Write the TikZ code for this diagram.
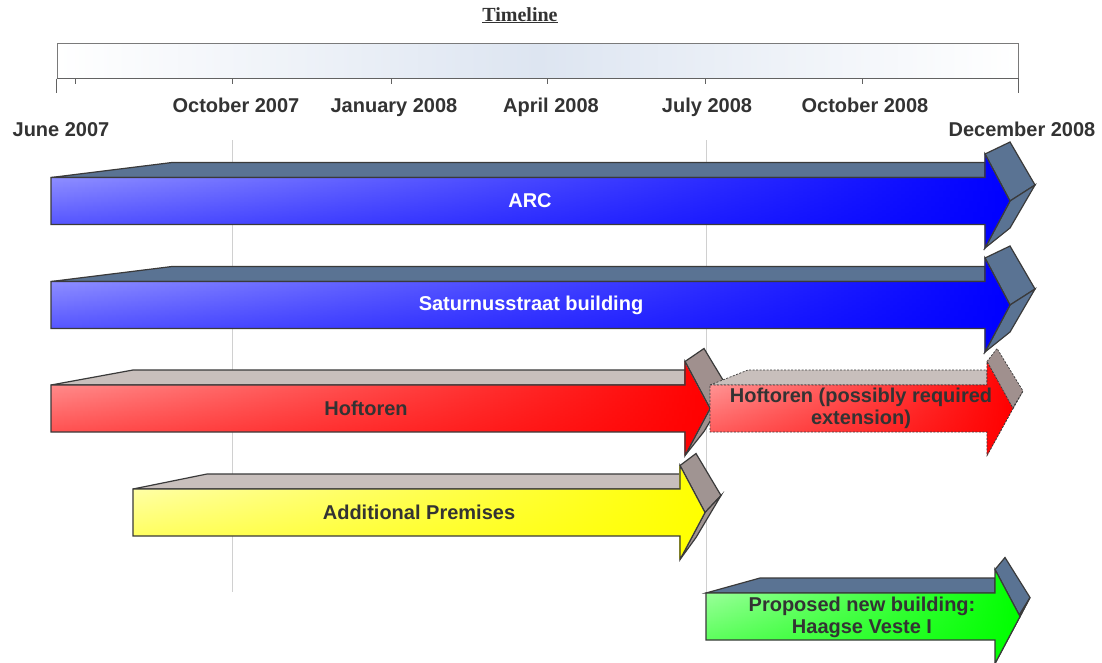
\documentclass[tikz,border=0pt]{standalone}
\usepackage{fontspec}
\setmainfont{Liberation Sans}
\newfontfamily\titlefont{Liberation Serif}
\usetikzlibrary{fadings}
\definecolor{txt}{HTML}{333333}
\definecolor{edgegray}{HTML}{3A3A3A}
\definecolor{bargray}{HTML}{7A7A7A}
\definecolor{barmid}{HTML}{DDE5F1}
\definecolor{gridgray}{HTML}{D0D0D0}
% blue
\definecolor{arBLight}{HTML}{ABABFF}\definecolor{arBMid}{HTML}{3A3AFF}\definecolor{arBPure}{HTML}{0000FF}
\definecolor{arBTop}{HTML}{5A7393}\definecolor{arBSide}{HTML}{5A7393}
% red
\definecolor{arRLight}{HTML}{FFA8A8}\definecolor{arRMid}{HTML}{FF3535}\definecolor{arRPure}{HTML}{FF0000}
\definecolor{arRTop}{HTML}{C8BFBC}\definecolor{arRSide}{HTML}{A0908E}
% red extension
\definecolor{arXLight}{HTML}{FFB0B0}\definecolor{arXMid}{HTML}{FF4040}\definecolor{arXPure}{HTML}{FF0000}
\definecolor{arXTop}{HTML}{C8BFBC}\definecolor{arXSide}{HTML}{A0908E}
% yellow
\definecolor{arYLight}{HTML}{FFFFC8}\definecolor{arYMid}{HTML}{FFFF40}\definecolor{arYPure}{HTML}{FFFF00}
\definecolor{arYTop}{HTML}{C8BFBC}\definecolor{arYSide}{HTML}{A09492}
% green
\definecolor{arGLight}{HTML}{B8FFB8}\definecolor{arGMid}{HTML}{40FF40}\definecolor{arGPure}{HTML}{00FF00}
\definecolor{arGTop}{HTML}{5A7393}\definecolor{arGSide}{HTML}{5A7393}
\tikzfading[name=solidright, left color=transparent!100, middle color=transparent!50, right color=transparent!0]
\tikzset{
  arBedge/.style={draw=edgegray, line width=1.2},
  arRedge/.style={draw=edgegray, line width=1.2},
  arYedge/.style={draw=edgegray, line width=1.2},
  arGedge/.style={draw=edgegray, line width=1.2},
  arXedge/.style={draw=edgegray, line width=0.7, dash pattern=on 2pt off 1.5pt},
  datelbl/.style={font=\bfseries\fontsize{20}{22}\selectfont, text=txt, anchor=base, inner sep=0},
  arrowlbl/.style={font=\bfseries\fontsize{20}{22}\selectfont, text=txt, align=center, inner sep=0},
  whitelbl/.style={arrowlbl, text=white},
  gridline/.style={draw=gridgray, line width=1},
  tickline/.style={draw=bargray!80!black, line width=1},
}
% #1 L, #2 back-left x, #3 head base x, #4 tip x, #5 centre y, #6 dx, #7 dy top, #8 dy bottom, #9 prefix
\newcommand\tdarrow[9]{%
  \pgfmathsetmacro\aYt{#5-23.5}\pgfmathsetmacro\aYb{#5+23.5}%
  \pgfmathsetmacro\aYk{#5-38.5}%
  \pgfmathsetmacro\aHa{#5-47}\pgfmathsetmacro\aHb{#5+47}%
  \pgfmathsetmacro\aXb{#3+#6}\pgfmathsetmacro\aXt{#4+#6}%
  \pgfmathsetmacro\aBa{#5-47+#7}\pgfmathsetmacro\aBt{#5+(#7+#8)/2}\pgfmathsetmacro\aBb{#5+47+#8}%
  \path[#9edge, fill=#9Top] (#1,\aYt) -- (#2,\aYk) -- (#3,\aYk) -- (#3,\aYt) -- cycle;
  \path[#9edge, fill=#9Side] (#3,\aHa) -- (\aXb,\aBa) -- (\aXt,\aBt) -- (#4,#5) -- cycle;
  \path[#9edge, fill=#9Side] (#4,#5) -- (\aXt,\aBt) -- (\aXb,\aBb) -- (#3,\aHb) -- cycle;
  \path[top color=#9Light, bottom color=#9Mid] (#1,\aYt) -- (#3,\aYt) -- (#3,\aHa) -- (#4,#5) -- (#3,\aHb) -- (#3,\aYb) -- (#1,\aYb) -- cycle;
  \path[fill=#9Pure, path fading=solidright] (#1,\aYt) -- (#3,\aYt) -- (#3,\aHa) -- (#4,#5) -- (#3,\aHb) -- (#3,\aYb) -- (#1,\aYb) -- cycle;
  \path[#9edge] (#1,\aYt) -- (#3,\aYt) -- (#3,\aHa) -- (#4,#5) -- (#3,\aHb) -- (#3,\aYb) -- (#1,\aYb) -- cycle;
}
\begin{document}
\begin{tikzpicture}[x=1pt,y=-1pt]
\useasboundingbox (0,0) rectangle (1102,662);
\fill[white] (0,0) rectangle (1102,662);

% title
\node[font=\titlefont\bfseries\fontsize{20}{22}\selectfont, text=txt, anchor=base, inner sep=0] (title) at (520,21) {\underline{Timeline}};

% timeline bar
\node[draw=bargray, line width=1, left color=white, right color=white, middle color=barmid,
      minimum width=961, minimum height=35, inner sep=0] (bar) at (537.5,60.5) {};
\draw[tickline] (bar.south west) -- (bar.south east);
\draw[tickline] (bar.south west) -- ++(0,14);
\draw[tickline] (bar.south east) -- ++(0,14);
\foreach \tx in {75,232,391,547,705,862} \draw[tickline] (\tx,78) -- (\tx,84);

% date labels
\node[datelbl] (oct07) at (236,112) {October 2007};
\node[datelbl] (jan08) at (394,112) {January 2008};
\node[datelbl] (apr08) at (551,112) {April 2008};
\node[datelbl] (jul08) at (707,112) {July 2008};
\node[datelbl] (oct08) at (865,112) {October 2008};
\node[datelbl] (jun07) at (61,136) {June 2007};
\node[datelbl] (dec08) at (1022,136) {December 2008};

% grid lines
\draw[gridline] (232,140) -- (232,592);
\draw[gridline] (706,140) -- (706,593);

% arrows
\tdarrow{51}{172}{985}{1010}{201}{25}{-12}{-20}{arB}
\tdarrow{51}{172}{985}{1010}{305}{25}{-12}{-20}{arB}
\tdarrow{51}{133}{685}{710}{408.5}{19}{-13}{-24}{arR}
\tdarrow{133}{207}{680}{705}{512.5}{16}{-12}{-22}{arY}
\tdarrow{710}{748}{987}{1013}{408.5}{10}{-13}{-22}{arX}
\tdarrow{706}{760}{995}{1020}{616.5}{10}{-12}{-26}{arG}

% arrow labels
\node[whitelbl] (arc) at (530,201) {ARC};
\node[whitelbl] (sat) at (531,305) {Saturnusstraat building};
\node[arrowlbl] (hof) at (366,408.5) {Hoftoren};
\node[arrowlbl] (hofx) at (861,408.5) {Hoftoren (possibly required\\extension)};
\node[arrowlbl] (add) at (419,512.5) {Additional Premises};
\node[arrowlbl] (prop) at (862,617) {Proposed new building:\\Haagse Veste I};
\end{tikzpicture}
\end{document}
